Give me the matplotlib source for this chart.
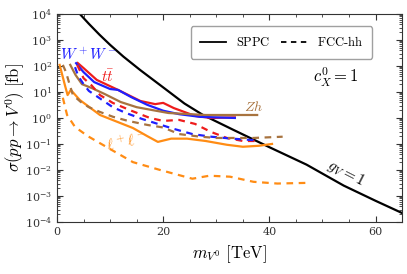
import numpy as np
import matplotlib
matplotlib.use('Agg')
import matplotlib.pyplot as plt
from matplotlib.ticker import LogLocator, MultipleLocator, NullFormatter

plt.rcParams['mathtext.fontset'] = 'cm'
plt.rcParams['font.family'] = 'serif'
plt.rcParams['font.serif'] = ['DejaVu Serif']

# g_V = 1 theory line
m_gv = [4.3, 6, 8, 10, 12.5, 15.7, 20, 24, 27.5, 33.2, 40, 47, 54, 60, 65]
s_gv = [1e4, 4.2e3, 1.6e3, 6.5e2, 2.3e2, 69, 15, 3.6, 1.3, 0.35, 0.075, 0.016, 2.5e-3, 6.5e-4, 2.2e-4]

# SPPC (solid)
m_tt_s = [3.9, 5, 7.5, 11.5, 15.7, 18.5, 20, 22, 26, 29, 33.5]
s_tt_s = [130, 83, 29, 12, 4.5, 3.4, 3.8, 2.4, 1.2, 1.0, 1.05]
m_ww_s = [3.6, 5, 7, 10, 11.5, 14, 17, 20, 23, 27, 33.5]
s_ww_s = [128, 58, 24, 13, 12, 6.3, 3.2, 1.9, 1.4, 1.1, 1.0]
m_zh_s = [2.5, 3.5, 4.7, 6.6, 9, 12, 15, 18, 21, 25, 28, 37.7]
s_zh_s = [110, 45, 20, 14, 8.3, 4.1, 2.6, 2.0, 1.55, 1.4, 1.3, 1.3]
m_ll_s = [0.5, 1.5, 2.0, 2.6, 4.3, 8.1, 14.3, 17, 19, 21.5, 24.5, 28, 32, 35, 38, 40.5]
s_ll_s = [110, 18, 7.6, 12, 4.9, 1.3, 0.41, 0.2, 0.12, 0.16, 0.16, 0.13, 0.093, 0.078, 0.085, 0.1]

# FCC-hh (dashed)
m_tt_d = [3.8, 5, 6.5, 8.1, 10.5, 14, 17.5, 20, 23, 26, 29, 32, 35, 37.5]
s_tt_d = [110, 34, 18, 7.6, 3.8, 1.9, 1.0, 0.77, 0.84, 0.59, 0.29, 0.17, 0.13, 0.13]
m_ww_d = [3.4, 4, 5, 6, 8, 10.5, 13, 16, 19, 22, 25.5, 29, 33, 37]
s_ww_d = [90, 41, 20, 11, 5.8, 2.6, 1.55, 0.92, 0.59, 0.38, 0.24, 0.19, 0.16, 0.14]
m_zh_d = [1.1, 1.7, 2.3, 3, 4.5, 6, 8.1, 10.6, 13.4, 17, 20, 23, 27, 30, 34, 37, 42.5]
s_zh_d = [110, 58, 22, 7.6, 4.1, 2.6, 1.7, 1.1, 0.77, 0.54, 0.43, 0.24, 0.19, 0.17, 0.17, 0.17, 0.19]
m_ll_d = [1.1, 1.9, 3.4, 5.8, 9.6, 14.3, 19.4, 25.5, 28.7, 32.6, 37, 41.5, 47.7]
s_ll_d = [6, 1.3, 0.45, 0.2, 0.071, 0.02, 0.010, 0.0046, 0.006, 0.0055, 0.0035, 0.003, 0.0032]

red = '#ee1c1c'
blue = '#1f1fff'
brown = '#a8733f'
orange = '#ff8c14'

fig = plt.figure(figsize=(4.07, 2.74), dpi=100)
ax = fig.add_axes([0.140, 0.190, 0.848, 0.759])

lw = 1.6
dash = (0, (3, 2.5))
ax.plot(m_gv, s_gv, color='black', lw=lw)
ax.plot(m_tt_s, s_tt_s, color=red, lw=lw)
ax.plot(m_ww_s, s_ww_s, color=blue, lw=lw)
ax.plot(m_zh_s, s_zh_s, color=brown, lw=lw)
ax.plot(m_ll_s, s_ll_s, color=orange, lw=lw)
ax.plot(m_tt_d, s_tt_d, color=red, lw=lw, ls=dash)
ax.plot(m_ww_d, s_ww_d, color=blue, lw=lw, ls=dash)
ax.plot(m_zh_d, s_zh_d, color=brown, lw=lw, ls=dash)
ax.plot(m_ll_d, s_ll_d, color=orange, lw=lw, ls=dash)

ax.set_yscale('log')
ax.set_xlim(0, 65)
ax.set_ylim(1e-4, 1e4)
ax.xaxis.set_major_locator(MultipleLocator(20))
ax.xaxis.set_minor_locator(MultipleLocator(5))
ax.yaxis.set_major_locator(LogLocator(base=10, numticks=20))
ax.yaxis.set_minor_locator(LogLocator(base=10, subs=np.arange(2, 10), numticks=20))
ax.yaxis.set_minor_formatter(NullFormatter())
ax.tick_params(which='both', direction='in', top=True, right=True, labelsize=8, colors='#333333')
ax.tick_params(which='major', length=4)
ax.tick_params(which='minor', length=2)
for sp in ax.spines.values():
    sp.set_color('#333333')

ax.set_xlabel(r'$m_{V^0}\ [\mathrm{TeV}]$', fontsize=12, labelpad=5)
ax.set_ylabel(r'$\sigma(pp \to V^0)\ [\mathrm{fb}]$', fontsize=12)
ax.yaxis.set_label_coords(-0.088, 0.5)

# legend
h1, = ax.plot([], [], color='black', lw=1.3)
h2, = ax.plot([], [], color='black', lw=1.3, ls=dash)
ax.legend([h1, h2], [r'$\mathrm{SPPC}$', r'$\mathrm{FCC\text{-}hh}$'], ncol=2, loc='upper right',
          bbox_to_anchor=(0.932, 0.972), fontsize=9, frameon=True, edgecolor='#888888',
          fancybox=True, handlelength=2.1, handletextpad=0.8, columnspacing=0.8, borderpad=0.75)

ax.text(5.9, 260, r'$W^+W^-$', color=blue, fontsize=11, ha='center', va='center')
ax.text(9.6, 40, r'$t\bar{t}$', color=red, fontsize=11, ha='center', va='center')
ax.text(37, 2.6, r'$Zh$', color=brown, fontsize=10, ha='center', va='center')
ax.text(13, 0.13, r'$\ell^+\ell^-$', color=orange, fontsize=11, ha='center', va='center', rotation=12)
ax.text(54.5, 7.5e-3, r'$g_V = 1$', color='black', fontsize=11, ha='center', va='center', rotation=-27)
ax.text(52.5, 37, r'$c_X^0 = 1$', color='black', fontsize=12, ha='center', va='center')

fig.savefig('out.png', dpi=100)
